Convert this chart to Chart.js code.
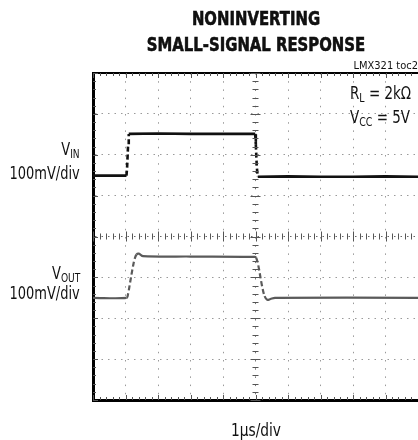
<!DOCTYPE html>
<html>
<head>
<meta charset="utf-8">
<script src="https://cdn.jsdelivr.net/npm/chart.js@4.4.0/dist/chart.umd.min.js"></script>
<style>
  html, body { margin: 0; padding: 0; background: #fff; }
  #wrap { position: relative; width: 418px; height: 440px; overflow: hidden;
          font-family: "Liberation Sans Narrow", "Arial Narrow", "DejaVu Sans Condensed", sans-serif; color: #111; }
  #wrap canvas { position: absolute; left: 0; top: 0; }
  .lbl { position: absolute; white-space: nowrap; line-height: 1; }
  .lbl sub { font-size: 70%; vertical-align: -0.25em; line-height: 0; }
  .title { left: 0; width: 512px; text-align: center; font-weight: 700; font-size: 19px;
           transform: scaleX(0.87); transform-origin: 256px 0; -webkit-text-stroke: 0.5px #000; }
  .side { right: 338px; text-align: right; font-size: 17px; transform: scaleX(0.85); transform-origin: 100% 0; }
  .note { left: 350px; font-size: 17px; transform: scaleX(0.88); transform-origin: 0 0; }
</style>
</head>
<body>
<div id="wrap">
  <canvas id="scope" width="418" height="440"></canvas>
  <div class="lbl title" style="top:9px">NONINVERTING</div>
  <div class="lbl title" style="top:35px">SMALL-SIGNAL RESPONSE</div>
  <div class="lbl" style="right:0; top:60px; font-size:11px;">LMX321 toc2</div>
  <div class="lbl note" style="top:85px">R<sub>L</sub> = 2kΩ</div>
  <div class="lbl note" style="top:109px">V<sub>CC</sub> = 5V</div>
  <div class="lbl side" style="top:141px">V<sub>IN</sub></div>
  <div class="lbl side" style="top:165px">100mV/div</div>
  <div class="lbl side" style="top:265px">V<sub>OUT</sub></div>
  <div class="lbl side" style="top:285px">100mV/div</div>
  <div class="lbl" style="left:0; width:512px; text-align:center; top:422px; font-size:17px; transform:scaleX(0.9); transform-origin:256px 0;">1µs/div</div>
</div>
<script>
(function () {
    "use strict";

    // time in us (1us/div), level in mV (100mV/div), screen centre = 0
    var vinTime  = [0, 1.03, 1.05, 1.08, 1.10, 2.0, 3.0, 4.0, 4.99, 5.01, 5.04, 5.07, 6.0, 7.0, 8.0, 9.0, 10];
    var vinLevel = [149, 149, 170, 225, 251, 252, 251, 251, 251, 225, 170, 146, 147, 146, 146, 147, 146];

    var voutTime  = [0, 1.03, 1.08, 1.13, 1.18, 1.23, 1.28, 1.34, 1.41, 1.54, 3.0, 4.98,
                     5.02, 5.07, 5.12, 5.17, 5.22, 5.28, 5.36, 5.46, 5.6, 10];
    var voutLevel = [-150, -150, -140, -118, -95, -73, -55, -44, -42, -48, -49, -50,
                     -52, -65, -85, -108, -128, -146, -155, -153, -150, -150];

    var xDivs = [0, 1, 2, 3, 4, 5, 6, 7, 8, 9, 10];
    var yDivs = [-400, -300, -200, -100, 0, 100, 200, 300, 400];

    function toPoints(t, v) {
        return t.map(function (x, i) { return {x: x, y: v[i]}; });
    }

    // steep edges look dashed on the scope photo
    function steepDash(ctx) {
        var dx = Math.abs(ctx.p1.x - ctx.p0.x), dy = Math.abs(ctx.p1.y - ctx.p0.y);
        return dy > dx * 2 ? [5, 3] : undefined;
    }

    // Frame, minor ticks on the edges and on the centre cross
    var scopeFrame = {
        id: "scopeFrame",
        afterDatasetsDraw: function (chart) {
            var c = chart.ctx, a = chart.chartArea;
            var xs = chart.scales.x, ys = chart.scales.y;
            var cx = xs.getPixelForValue(5), cy = ys.getPixelForValue(0);
            c.save();
            c.strokeStyle = "#000";
            c.lineWidth = 2;
            c.beginPath();
            c.moveTo(a.left, a.top);
            c.lineTo(a.right, a.top);
            c.stroke();

            c.lineWidth = 1;
            c.strokeStyle = "#555";
            c.beginPath();
            for (var t = 0; t <= 10.001; t += 0.2) {
                var px = Math.round(xs.getPixelForValue(t)) + 0.5;
                var big = Math.abs(t - Math.round(t)) < 0.01 ? 5 : 3;
                c.moveTo(px, a.top); c.lineTo(px, a.top + big);
                c.moveTo(px, a.bottom); c.lineTo(px, a.bottom - big);
                c.moveTo(px, cy - big); c.lineTo(px, cy + big);
            }
            for (var v = -400; v <= 400.1; v += 20) {
                var py = Math.round(ys.getPixelForValue(v)) + 0.5;
                var len = Math.abs(v % 100) < 0.1 ? 5 : 3;
                c.moveTo(a.left, py); c.lineTo(a.left + len, py);
                c.moveTo(cx - len, py); c.lineTo(cx + len, py);
            }
            c.stroke();
            c.restore();
        }
    };

    new Chart(document.getElementById("scope").getContext("2d"), {
        type: "line",
        data: {
            datasets: [{
                label: "VIN",
                data: toPoints(vinTime, vinLevel),
                borderColor: "#111",
                borderWidth: 2.6,
                pointRadius: 0,
                tension: 0,
                segment: { borderDash: steepDash }
            }, {
                label: "VOUT",
                data: toPoints(voutTime, voutLevel),
                borderColor: "#5a5a5a",
                borderWidth: 2.2,
                pointRadius: 0,
                tension: 0.3,
                segment: { borderDash: steepDash }
            }]
        },
        options: {
            responsive: false,
            animation: false,
            layout: { padding: { left: 93, top: 73, right: 0, bottom: 40 } },
            plugins: { legend: { display: false }, tooltip: { enabled: false } },
            scales: {
                x: {
                    type: "linear", min: 0, max: 10,
                    afterBuildTicks: function (s) { s.ticks = xDivs.map(function (v) { return {value: v}; }); },
                    ticks: { display: false },
                    grid: {
                        drawTicks: false, lineWidth: 1,
                        color: function (ctx) { return ctx.tick && ctx.tick.value === 5 ? "#777" : "#9a9a9a"; }
                    },
                    border: { display: true, color: "#000", width: 3, dash: [1.5, 6.7] }
                },
                y: {
                    type: "linear", min: -400, max: 400,
                    afterBuildTicks: function (s) { s.ticks = yDivs.map(function (v) { return {value: v}; }); },
                    ticks: { display: false },
                    grid: {
                        drawTicks: false, lineWidth: 1,
                        color: function (ctx) { return ctx.tick && ctx.tick.value === 0 ? "#666" : "#9a9a9a"; }
                    },
                    border: { display: true, color: "#000", width: 3, dash: [1.5, 5] }
                }
            }
        },
        plugins: [scopeFrame]
    });
})();
</script>
</body>
</html>
